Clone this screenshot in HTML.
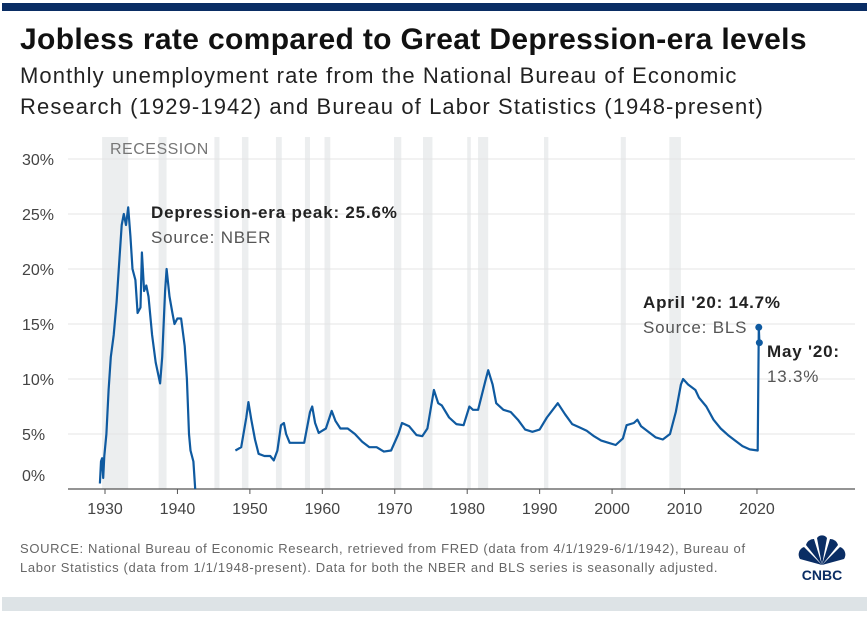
<!DOCTYPE html>
<html><head><meta charset="utf-8"><style>
body{margin:0;background:#fff;width:867px;height:617px;overflow:hidden;font-family:"Liberation Sans",sans-serif;}
.t{position:absolute;white-space:nowrap;}
</style></head><body>
<div style="position:absolute;left:2px;top:3px;width:865px;height:8px;background:#0a2d64"></div>
<div class="t" style="left:20px;top:23px;font-size:30px;font-weight:bold;color:#111;letter-spacing:0.35px">Jobless rate compared to Great Depression-era levels</div>
<div class="t" style="left:20px;top:60px;font-size:22px;color:#222;line-height:31px;letter-spacing:1.1px">Monthly unemployment rate from the National Bureau of Economic<br>Research (1929-1942) and Bureau of Labor Statistics (1948-present)</div>
<svg id="chart" width="867" height="617" style="position:absolute;left:0;top:0"></svg>
<div class="t" style="left:20px;top:539px;font-size:13px;color:#666;line-height:19px;letter-spacing:0.65px">SOURCE: National Bureau of Economic Research, retrieved from FRED (data from 4/1/1929-6/1/1942), Bureau of<br>Labor Statistics (data from 1/1/1948-present). Data for both the NBER and BLS series is seasonally adjusted.</div>
<div style="position:absolute;left:2px;top:597px;width:865px;height:14px;background:#dde3e6"></div>
<svg width="60" height="50" style="position:absolute;left:792px;top:535px">
<g fill="#0a2d64">
<path d="M30 30 L8 24 A8 8 0 0 1 12 12 Z"/><path d="M30 30 L14 10 A8 8 0 0 1 22 4 Z"/><path d="M30 30 L25 3 A6 6 0 0 1 35 3 Z"/><path d="M30 30 L38 4 A8 8 0 0 1 46 10 Z"/><path d="M30 30 L48 12 A8 8 0 0 1 52 24 Z"/>
</g>
<text x="30" y="45" text-anchor="middle" font-family="Liberation Sans" font-weight="bold" font-size="14" fill="#0a2d64">CNBC</text>
</svg>
<script>
const yTicks=[0,5,10,15,20,25,30];
const xTicks=[1930,1940,1950,1960,1970,1980,1990,2000,2010,2020];
const recessions=[[1929.6,1933.2],[1937.4,1938.5],[1945.1,1945.8],[1948.9,1949.8],[1953.6,1954.4],[1957.6,1958.3],[1960.3,1961.1],[1969.9,1970.9],[1973.9,1975.2],[1980.0,1980.5],[1981.5,1982.9],[1990.6,1991.2],[2001.2,2001.9],[2007.9,2009.5]];
const nberYears=[1929.3,1929.45,1929.6,1929.75,1929.9,1930.2,1930.5,1930.8,1931.2,1931.6,1932,1932.3,1932.6,1932.9,1933.2,1933.5,1933.8,1934.2,1934.5,1934.9,1935.1,1935.4,1935.7,1936,1936.5,1937,1937.6,1937.9,1938.3,1938.5,1938.9,1939.3,1939.6,1940,1940.5,1941,1941.3,1941.6,1941.8,1942.2,1942.45];
const nberRates=[0.5,2.5,2.8,1,3,5,9,12,14,17,21,24,25,24,25.6,23,20,19,16,16.5,21.5,18,18.5,17.5,14,11.5,9.6,12,18,20,17.5,16,15,15.5,15.5,13,10,5,3.5,2.5,0];
const blsYears=[1948,1948.8,1949.5,1949.8,1950.2,1950.7,1951.2,1952,1952.8,1953.3,1953.8,1954.3,1954.7,1955,1955.5,1956.5,1957.5,1958.3,1958.6,1959,1959.5,1960,1960.5,1961.3,1961.8,1962.5,1963.5,1964.5,1965.5,1966.5,1967.5,1968.5,1969.5,1970.5,1971,1972,1973,1973.8,1974.5,1975.4,1976,1976.5,1977.5,1978.5,1979.5,1980.3,1980.8,1981.5,1982.5,1982.9,1983.5,1984,1985,1986,1987,1988,1989,1990,1991,1992.5,1993.5,1994.5,1995.5,1996.5,1997.5,1998.5,1999.5,2000.5,2001.5,2002,2003,2003.5,2004,2005,2006,2007,2008,2008.8,2009.5,2009.8,2010.5,2011.5,2012,2013,2014,2015,2016,2017,2018,2019,2020.1,2020.25,2020.33];
const blsRates=[3.5,3.8,6.5,7.9,6.3,4.5,3.2,3.0,3.0,2.6,3.5,5.8,6.0,5.0,4.2,4.2,4.2,7.0,7.5,6.0,5.1,5.3,5.5,7.1,6.2,5.5,5.5,5.0,4.3,3.8,3.8,3.4,3.5,5.0,6.0,5.7,4.9,4.8,5.5,9.0,7.8,7.6,6.5,5.9,5.8,7.5,7.2,7.2,9.8,10.8,9.5,7.8,7.2,7.0,6.3,5.4,5.2,5.4,6.5,7.8,6.8,5.9,5.6,5.3,4.8,4.4,4.2,4.0,4.6,5.8,6.0,6.3,5.7,5.2,4.7,4.5,5.0,7.0,9.5,10.0,9.5,9.0,8.3,7.5,6.3,5.5,4.9,4.4,3.9,3.6,3.5,14.7,13.3];
const svg=document.getElementById('chart');const NS='http://www.w3.org/2000/svg';
const X=y=>105+(y-1930)*7.244;const Y=v=>489-v*11;
function mk(t,a,p){const e=document.createElementNS(NS,t);for(const k in a)e.setAttribute(k,a[k]);(p||svg).appendChild(e);return e;}
recessions.forEach(r=>{const e=mk('rect',{x:X(r[0]),y:137,width:Math.max(2,X(r[1])-X(r[0])),height:352,fill:'#eceeef'});

});
const rl=mk('text',{x:110,y:154,'font-size':16,fill:'#777','font-family':'Liberation Sans','letter-spacing':0.5});rl.textContent='RECESSION';


yTicks.forEach(v=>{if(v>0){const g=mk('line',{x1:68,x2:855,y1:Y(v),y2:Y(v),stroke:'#e4e4e4'});

}
const t=mk('text',{x:22,y:v===0?481:Y(v)+6,'font-size':16,fill:'#444','font-family':'Liberation Sans'});t.textContent=v+'%';

});
const ax=mk('line',{x1:68,x2:855,y1:489,y2:489,stroke:'#555','stroke-width':1.2});


xTicks.forEach(y=>{mk('line',{x1:X(y),x2:X(y),y1:489,y2:494,stroke:'#555'});
const t=mk('text',{x:X(y),y:514,'font-size':16,fill:'#444','text-anchor':'middle','font-family':'Liberation Sans'});t.textContent=y;

});
function line(xs,vs,name){const d=xs.map((x,i)=>(i?'L':'M')+X(x).toFixed(1)+' '+Y(vs[i]).toFixed(1)).join(' ');
const p=mk('path',{d:d,fill:'none',stroke:'#0f5aa0','stroke-width':2.2,'stroke-linejoin':'round'});

}
line(nberYears,nberRates,'nber-series-line');line(blsYears,blsRates,'bls-series-line');
const n=blsYears.length;
[n-2,n-1].forEach(i=>{const c=mk('circle',{cx:X(blsYears[i]),cy:Y(blsRates[i]),r:3.5,fill:'#0f5aa0'});

});
function txt(x,y,s,b,c,name){const t=mk('text',{x:x,y:y,'font-size':17,'font-weight':b?'bold':'normal',fill:c,'font-family':'Liberation Sans','letter-spacing':0.8});t.textContent=s;

}
txt(151,218,'Depression-era peak: 25.6%',1,'#222','peak-annotation');
txt(151,243,'Source: NBER',0,'#555','peak-source');
txt(643,308,"April '20: 14.7%",1,'#222','april-annotation');
txt(643,333,'Source: BLS',0,'#555','april-source');
txt(767,357,"May '20:",1,'#222','may-annotation');
txt(767,382,'13.3%',0,'#555','may-value');
</script>
</body></html>
